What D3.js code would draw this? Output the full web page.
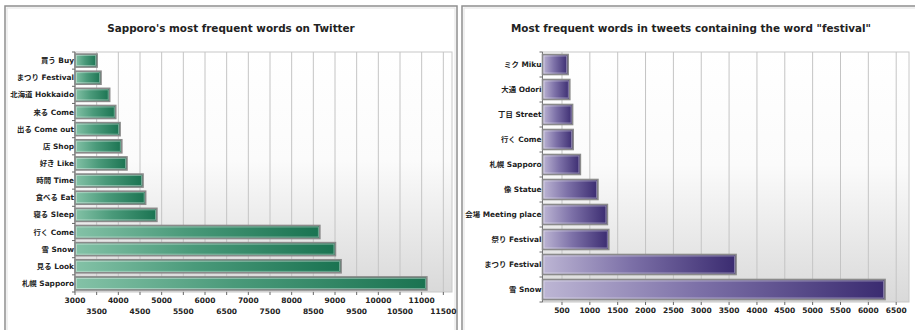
<!DOCTYPE html>
<html>
<head>
<meta charset="utf-8">
<script src="https://cdn.jsdelivr.net/npm/d3@7"></script>
<style>
  body { margin: 0; background: #fff; }
  text { font-family: "DejaVu Sans", "Noto Sans CJK JP", sans-serif; font-weight: bold; fill: #222; }
</style>
</head>
<body>
<div id="chart"></div>
<script>
// data
var leftWords = ['買う Buy', 'まつり Festival', '北海道 Hokkaido', '来る Come', '出る Come out', '店 Shop',
  '好き Like', '時間 Time', '食べる Eat', '寝る Sleep', '行く Come', '雪 Snow', '見る Look', '札幌 Sapporo'];
var leftCounts = [3510, 3600, 3800, 3940, 4040, 4080, 4200, 4570, 4630, 4890, 8650, 9010, 9140, 11120];
var leftTicks = [3000, 3500, 4000, 4500, 5000, 5500, 6000, 6500, 7000, 7500, 8000, 8500, 9000, 9500, 10000, 10500, 11000, 11500];

var rightWords = ['ミク Miku', '大通 Odori', '丁目 Street', '行く Come', '札幌 Sapporo', '像 Statue',
  '会場 Meeting place', '祭り Festival', 'まつり Festival', '雪 Snow'];
var rightCounts = [610, 640, 690, 700, 830, 1145, 1315, 1340, 3625, 6300];
var rightTicks = [500, 1000, 1500, 2000, 2500, 3000, 3500, 4000, 4500, 5000, 5500, 6000, 6500];

var svg = d3.select("#chart").append("svg")
  .attr("width", 915)
  .attr("height", 330);

var defs = svg.append("defs");

var bg = defs.append("linearGradient").attr("id", "plotbg")
  .attr("x1", 0).attr("y1", 0).attr("x2", 0).attr("y2", 1);
bg.append("stop").attr("offset", "0%").attr("stop-color", "#ffffff");
bg.append("stop").attr("offset", "45%").attr("stop-color", "#fbfbfb");
bg.append("stop").attr("offset", "100%").attr("stop-color", "#d9d9d9");

function barGradient(id, light, mid, dark) {
  var g = defs.append("linearGradient").attr("id", id)
    .attr("x1", 0).attr("y1", 0).attr("x2", 1).attr("y2", 0);
  g.append("stop").attr("offset", "0%").attr("stop-color", light);
  g.append("stop").attr("offset", "45%").attr("stop-color", mid);
  g.append("stop").attr("offset", "100%").attr("stop-color", dark);
}
barGradient("green", "#84c2a7", "#4a9a7a", "#1a7351");
barGradient("purple", "#bdb6d4", "#7d71a8", "#3a2b70");

// panel frames
[[5, 6, 452], [462, 6, 460]].forEach(function(p) {
  svg.append("rect")
    .attr("x", p[0]).attr("y", p[1])
    .attr("width", p[2]).attr("height", 360)
    .attr("fill", "#fff")
    .attr("stroke", "#8f8f8f")
    .attr("stroke-width", 1.5);
  svg.append("rect")
    .attr("x", p[0] + 2).attr("y", p[1] + 2)
    .attr("width", p[2] - 4).attr("height", 360)
    .attr("fill", "none")
    .attr("stroke", "#e2e2e2")
    .attr("stroke-width", 1);
});

function drawPanel(opt) {
  var x = d3.scaleLinear().domain(opt.domain).range([opt.left, opt.right]);
  var y = d3.scaleBand().domain(opt.words).range([opt.top, opt.bottom]).paddingInner(opt.pad).paddingOuter(opt.pad / 2);

  var g = svg.append("g");

  // title
  g.append("text")
    .attr("x", opt.titleX).attr("y", 32)
    .attr("text-anchor", "middle")
    .style("font-size", "10.4px")
    .text(opt.title);

  // plot background
  g.append("rect")
    .attr("x", opt.left).attr("y", opt.top)
    .attr("width", opt.right - opt.left).attr("height", opt.bottom - opt.top)
    .attr("fill", "url(#plotbg)")
    .attr("stroke", "#c8c8c8");

  // grid
  g.selectAll(".grid").data(opt.ticks).enter().append("line")
    .attr("x1", d => x(d)).attr("x2", d => x(d))
    .attr("y1", opt.top).attr("y2", opt.bottom)
    .attr("stroke", "#c4c4c4");

  // x ticks + labels
  g.selectAll(".xt").data(opt.ticks).enter().append("line")
    .attr("x1", d => x(d)).attr("x2", d => x(d))
    .attr("y1", opt.bottom).attr("y2", opt.bottom + 3)
    .attr("stroke", "#666");
  g.selectAll(".xl").data(opt.ticks).enter().append("text")
    .attr("x", d => x(d))
    .attr("y", (d, i) => opt.stagger ? (i % 2 ? opt.bottom + 22 : opt.bottom + 11) : opt.bottom + 11)
    .attr("text-anchor", "middle")
    .style("font-size", "7.5px")
    .text(d => d);

  // y axis line + ticks at band edges
  g.append("line")
    .attr("x1", opt.left).attr("x2", opt.left)
    .attr("y1", opt.top).attr("y2", opt.bottom)
    .attr("stroke", "#777");
  var step = y.step();
  g.selectAll(".yt").data(d3.range(opt.words.length + 1)).enter().append("line")
    .attr("x1", opt.left - 3).attr("x2", opt.left)
    .attr("y1", d => opt.top + d * step).attr("y2", d => opt.top + d * step)
    .attr("stroke", "#666");

  // bars
  var bars = g.selectAll(".bar").data(opt.words).enter().append("g");
  bars.append("rect")
    .attr("x", opt.left)
    .attr("y", d => y(d))
    .attr("width", (d, i) => x(opt.counts[i]) - opt.left)
    .attr("height", y.bandwidth())
    .attr("fill", "url(#" + opt.color + ")")
    .attr("stroke", "#8a8a8a")
    .attr("stroke-width", 1.6);
  bars.append("rect")
    .attr("x", opt.left + 1.5)
    .attr("y", d => y(d) + 1.5)
    .attr("width", (d, i) => Math.max(0, x(opt.counts[i]) - opt.left - 3))
    .attr("height", y.bandwidth() - 3)
    .attr("fill", "none")
    .attr("stroke", "rgba(255,255,255,0.45)")
    .attr("stroke-width", 0.8);

  // category labels
  g.selectAll(".yl").data(opt.words).enter().append("text")
    .attr("x", opt.left - 1)
    .attr("y", d => y(d) + y.bandwidth() / 2)
    .attr("dy", "0.35em")
    .attr("text-anchor", "end")
    .style("font-size", "7.4px")
    .text(d => d);
}

drawPanel({
  title: "Sapporo's most frequent words on Twitter",
  titleX: 231,
  words: leftWords, counts: leftCounts, ticks: leftTicks,
  domain: [3000, 11700],
  left: 75, right: 452, top: 52, bottom: 292,
  pad: 0.24, color: "green", stagger: true
});

drawPanel({
  title: "Most frequent words in tweets containing the word \"festival\"",
  titleX: 691,
  words: rightWords, counts: rightCounts, ticks: rightTicks,
  domain: [150, 6730],
  left: 542.5, right: 909, top: 52, bottom: 302,
  pad: 0.2, color: "purple", stagger: false
});
</script>
</body>
</html>
